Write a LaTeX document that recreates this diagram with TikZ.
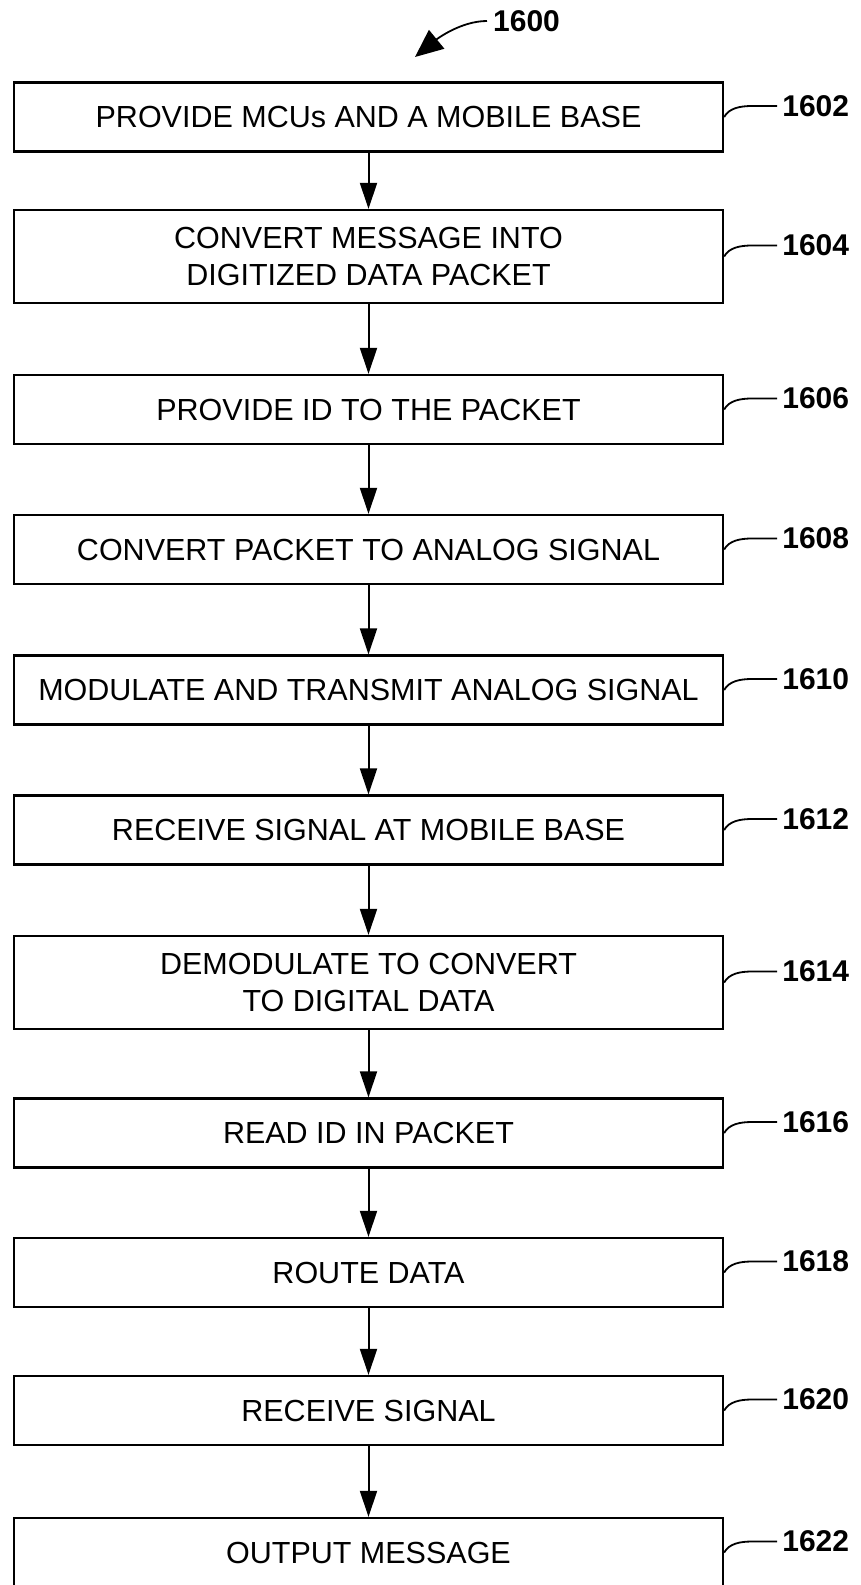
\documentclass[tikz,border=0pt]{standalone}
\usepackage{fontspec}
\setmainfont{Liberation Sans}
\usetikzlibrary{arrows.meta}

\tikzset{
  stepbox/.style={draw, line width=2.3pt, minimum width=709pt, minimum height=69pt,
    inner sep=0pt, align=center, font=\fontsize{30.5}{37}\selectfont},
  tallbox/.style={stepbox, minimum height=93pt},
  reflabel/.style={anchor=west, inner sep=0pt, font=\fontsize{30}{30}\selectfont\bfseries},
  flow/.style={line width=2pt, -{Triangle[length=26pt,width=17pt]}},
  leader/.style={line width=1.8pt}
}

\begin{document}
\begin{tikzpicture}[x=1pt,y=-1pt]
    \useasboundingbox (0,0) rectangle (860,1585);

    % Steps
    \node[stepbox] (s1602) at (368.5,117)   {PROVIDE MCUs AND A MOBILE BASE};
    \node[tallbox] (s1604) at (368.5,256.5) {CONVERT MESSAGE INTO\\DIGITIZED DATA PACKET};
    \node[stepbox] (s1606) at (368.5,409.5) {PROVIDE ID TO THE PACKET};
    \node[stepbox] (s1608) at (368.5,549.5) {CONVERT PACKET TO ANALOG SIGNAL};
    \node[stepbox] (s1610) at (368.5,690)   {MODULATE AND TRANSMIT ANALOG SIGNAL};
    \node[stepbox] (s1612) at (368.5,830)   {RECEIVE SIGNAL AT MOBILE BASE};
    \node[tallbox] (s1614) at (368.5,982.5) {DEMODULATE TO CONVERT\\TO DIGITAL DATA};
    \node[stepbox] (s1616) at (368.5,1133)  {READ ID IN PACKET};
    \node[stepbox] (s1618) at (368.5,1272.5) {ROUTE DATA};
    \node[stepbox] (s1620) at (368.5,1410.5) {RECEIVE SIGNAL};
    \node[stepbox] (s1622) at (368.5,1552.5) {OUTPUT MESSAGE};

    % Flow arrows
    \foreach \a/\b in {1602/1604,1604/1606,1606/1608,1608/1610,1610/1612,
                       1612/1614,1614/1616,1616/1618,1618/1620,1620/1622} {
        \draw[flow] (s\a.south) -- (s\b.north);
    }

    % Reference numerals with leaders
    \foreach \n in {1602,1604,...,1622} {
        \node[reflabel] (n\n) at ([xshift=58pt,yshift=11pt]s\n.east) {\n};
        \draw[leader] (s\n.east) .. controls +(5,-9) and +(-12,0) .. ([xshift=-30pt]n\n.west)
            -- ([xshift=-5pt]n\n.west);
    }

    % Figure number
    \node[reflabel] (n1600) at (493,21) {1600};
    \coordinate (tip) at (415,57);
    \draw[leader, -{Triangle[length=28pt,width=24pt]}] ([xshift=-6pt]n1600.west)
        .. controls +(-26,0) and +(22,-18) .. (tip);
\end{tikzpicture}
\end{document}
